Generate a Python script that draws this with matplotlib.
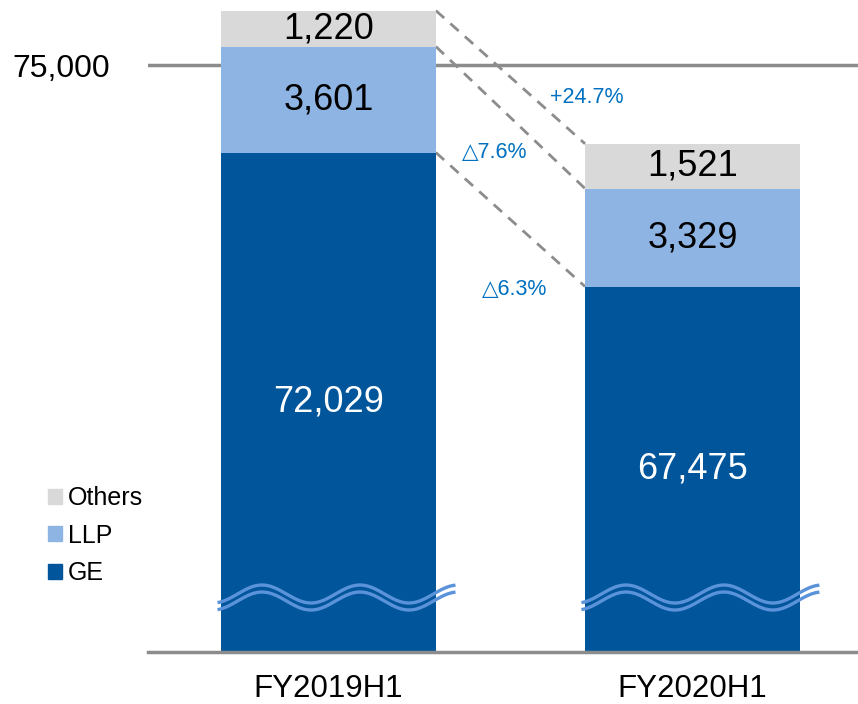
import numpy as np
import matplotlib
matplotlib.use("Agg")
import matplotlib.pyplot as plt
from matplotlib.patches import Patch

plt.rcParams['font.family'] = ['Liberation Sans', 'DejaVu Sans']

categories = ["FY2019H1", "FY2020H1"]
ge = [72029, 67475]
llp = [3601, 3329]
others = [1220, 1521]
changes = ["\u25b37.6%", "+24.7%", "\u25b36.3%"]  # LLP, Others, GE
ge_lbl = ["72,029", "67,475"]
llp_lbl = ["3,601", "3,329"]
oth_lbl = ["1,220", "1,521"]

c_ge = "#00559B"
c_llp = "#8EB4E3"
c_oth = "#D9D9D9"
c_wave = "#5B93DB"
c_axis = "#8C8C8C"
c_pct = "#0070C0"

fig = plt.figure(figsize=(8.58, 7.04), dpi=100)
ax = fig.add_axes([148/858, 1-652/704, 1-148/858, 652/704])
ymin, ymax = 55060, 77210
ax.set_xlim(-0.496, 1.455)
ax.set_ylim(ymin, ymax)

x = np.arange(len(categories))
w = 0.59
ge_a = np.array(ge); llp_a = np.array(llp); oth_a = np.array(others)
ax.axhline(75000, color=c_axis, lw=2.5, zorder=1)
ax.bar(x, ge_a, w, color=c_ge, zorder=3)
ax.bar(x, llp_a, w, bottom=ge_a, color=c_llp, zorder=3)
ax.bar(x, oth_a, w, bottom=ge_a + llp_a, color=c_oth, zorder=3)

# labels
for i in range(len(x)):
    ax.text(x[i], (ymin + ge_a[i]) / 2, ge_lbl[i], ha='center', va='center',
            color='white', fontsize=26, zorder=5)
    ax.text(x[i], ge_a[i] + llp_a[i] / 2, llp_lbl[i], ha='center', va='center',
            color='black', fontsize=26, zorder=5)
    ax.text(x[i], ge_a[i] + llp_a[i] + oth_a[i] / 2, oth_lbl[i], ha='center',
            va='center', color='black', fontsize=26, zorder=5)

# dashed connectors
tops0 = [ge_a[0], ge_a[0] + llp_a[0], ge_a[0] + llp_a[0] + oth_a[0]]
tops1 = [ge_a[1], ge_a[1] + llp_a[1], ge_a[1] + llp_a[1] + oth_a[1]]
for a, b in zip(tops0, tops1):
    ax.plot([x[0] + w/2, x[1] - w/2], [a, b], color=c_axis, lw=2,
            ls=(0, (4, 3)), zorder=2)

upp = 33.97  # data units per pixel
ax.text(0.710, 75000 - 32*upp, changes[1], color=c_pct, fontsize=15.5,
        ha='center', va='center')
ax.text(0.457, 75000 - 87*upp, changes[0], color=c_pct, fontsize=15.5,
        ha='center', va='center')
ax.text(0.512, 75000 - 224*upp, changes[2], color=c_pct, fontsize=15.5,
        ha='center', va='center')

# break marks
xs = np.linspace(-111/364, 127/364, 300)
for i in range(len(x)):
    ycen = 594
    yline = ycen - 9*np.cos(2*np.pi*((xs*364 + 328.5) - 262)/98)
    for off in (0, 7):
        yd = 75000 - (yline + off - 65) * upp
        ax.plot(x[i] + xs, yd, color=c_wave, lw=2.4, zorder=4,
                solid_capstyle='butt')

for s in ['left', 'right', 'top']:
    ax.spines[s].set_visible(False)
ax.spines['bottom'].set_color(c_axis)
ax.spines['bottom'].set_linewidth(2.5)
ax.spines['bottom'].set_zorder(6)
ax.set_xticks(x)
ax.set_xticklabels(categories, fontsize=22.5)
ax.set_yticks([75000])
ax.set_yticklabels(["75,000"], fontsize=23)
ax.tick_params(axis='both', length=0)
ax.tick_params(axis='x', pad=15.5)
ax.tick_params(axis='y', pad=27)

handles = [Patch(color=c_oth), Patch(color=c_llp), Patch(color=c_ge)]
fig.legend(handles, ["Others", "LLP", "GE"], loc='upper left',
           bbox_to_anchor=(48/858, 1-486/704), frameon=False, fontsize=18,
           handlelength=0.55, handleheight=0.55, handletextpad=0.25,
           labelspacing=0.55, borderpad=0, borderaxespad=0)

fig.savefig("out.png", dpi=100)
